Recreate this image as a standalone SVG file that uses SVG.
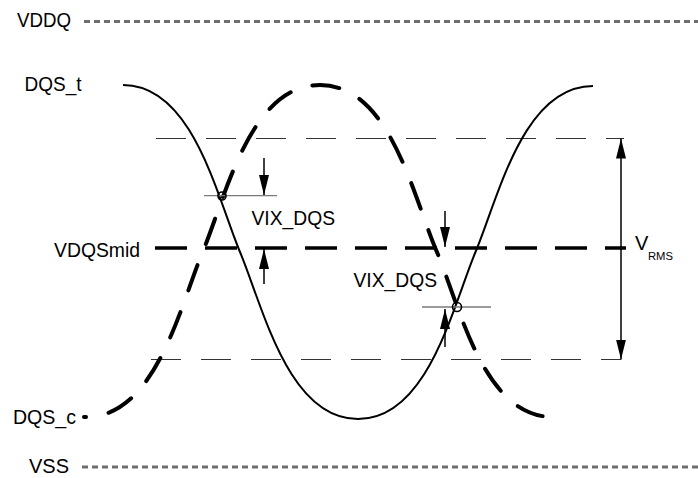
<svg xmlns="http://www.w3.org/2000/svg" width="698" height="478" viewBox="0 0 698 478">
<style>
text{font-family:"Liberation Sans",Arial,sans-serif;fill:#000}
.lbl{font-size:20px}
.rail{stroke:#6e6e6e;stroke-width:3;stroke-dasharray:6 4;fill:none}
.ref{stroke:#333;stroke-width:1;stroke-dasharray:30 20;fill:none}
.mid{stroke:#000;stroke-width:3.5;stroke-dasharray:32 18;fill:none}
.vix{stroke:#7a7a7a;stroke-width:1.3;fill:none}
.arr{stroke:#000;stroke-width:1.5;fill:none;marker-end:url(#ah)}
.sig-t{stroke:#000;stroke-width:2;fill:none}
.sig-c{stroke:#000;stroke-width:4;fill:none;stroke-linecap:round;stroke-dasharray:27 23;stroke-dashoffset:25}
.pt{stroke:#000;stroke-width:1.6;fill:none}
</style>
<defs>
<marker id="ah" markerWidth="20" markerHeight="10" refX="20" refY="5" orient="auto-start-reverse" markerUnits="userSpaceOnUse">
<path d="M0,0 L20,5 L0,10 z" fill="#000"/>
</marker>
</defs>

<g id="rails">
<line class="rail" x1="84" y1="21.5" x2="698" y2="21.5"/>
<line class="rail" x1="82" y1="467" x2="698" y2="467"/>
</g>

<g id="reference-lines">
<line class="ref" x1="156" y1="138.5" x2="624" y2="138.5"/>
<line class="ref" x1="151" y1="359.5" x2="621" y2="359.5"/>
<line class="mid" x1="155" y1="248" x2="626" y2="248"/>
</g>

<g id="dqs_t">
<path class="sig-t" d="M123,85 C193,85 217,197 240,252 S288,419 358,419 S452.5,307 475.5,252 S523,86 593,86"/>
</g>

<g id="dqs_c">
<path class="sig-c" d="M84,417 L86,417 C156,417 180,306 203,251 S250,85 320,85 S413,196 436.5,251 S483,417 553,417"/>
</g>

<g id="connectors">
<line class="vix" x1="204" y1="195.7" x2="277" y2="195.7"/>
<line class="vix" x1="422" y1="307" x2="491" y2="307"/>
<line class="arr" x1="264" y1="158" x2="264" y2="195"/>
<line class="arr" x1="264" y1="284" x2="264" y2="249"/>
<line class="arr" x1="445" y1="211" x2="445" y2="247"/>
<line class="arr" x1="445" y1="347" x2="445" y2="309"/>
<line class="arr" x1="621" y1="138.5" x2="621" y2="359.5" style="marker-start:url(#ah)"/>
</g>

<g id="crossings">
<circle class="pt" cx="222" cy="196" r="4"/>
<circle class="pt" cx="457" cy="307" r="4.5"/>
</g>

<g id="labels">
<text class="lbl" x="17" y="27" textLength="54" lengthAdjust="spacingAndGlyphs">VDDQ</text>
<text class="lbl" x="24.5" y="91" textLength="57" lengthAdjust="spacingAndGlyphs">DQS_t</text>
<text class="lbl" x="54" y="256.5" textLength="86" lengthAdjust="spacingAndGlyphs">VDQSmid</text>
<text class="lbl" x="251.5" y="225" textLength="83.5" lengthAdjust="spacingAndGlyphs">VIX_DQS</text>
<text class="lbl" x="353.5" y="286.5" textLength="83.5" lengthAdjust="spacingAndGlyphs">VIX_DQS</text>
<text class="lbl" x="13" y="424" textLength="63" lengthAdjust="spacingAndGlyphs">DQS_c</text>
<text class="lbl" x="29" y="473" textLength="40" lengthAdjust="spacingAndGlyphs">VSS</text>
<text class="lbl" x="635" y="250">V<tspan x="648" y="259.5" font-size="10.5" textLength="25" lengthAdjust="spacingAndGlyphs">RMS</tspan></text>
</g>
</svg>
